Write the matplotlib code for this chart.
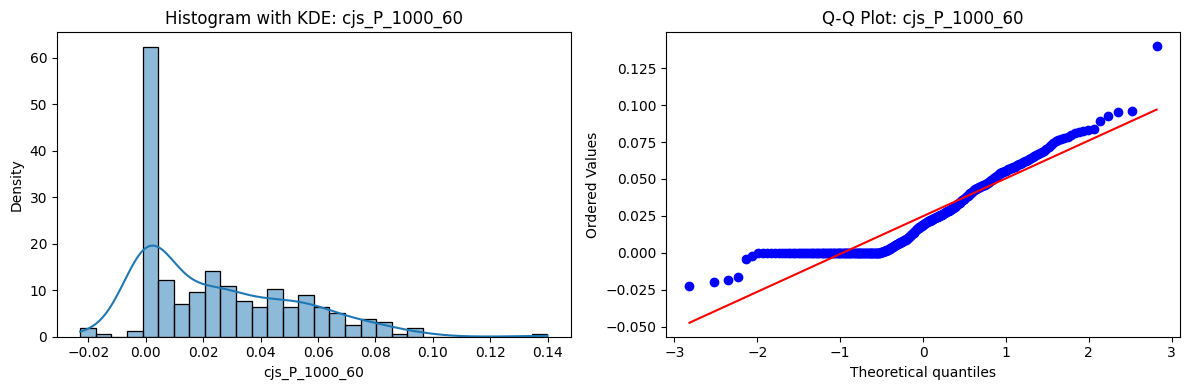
import numpy as np
import matplotlib
matplotlib.use("Agg")
import matplotlib.pyplot as plt
import seaborn as sns
from statistics import NormalDist

col_name = "cjs_P_1000_60"

neg_values = [-0.0228, -0.0198, -0.0187, -0.0167, -0.0045, -0.0020]
n_zeros = 81
small_values = [0.0002, 0.0004, 0.0006, 0.0008, 0.0010, 0.0012, 0.0014, 0.0016,
                0.0019, 0.0022, 0.0025, 0.0028, 0.0031, 0.0034, 0.0037, 0.0040]
low_values = [0.0046, 0.0049, 0.0051, 0.0054, 0.0057, 0.0060, 0.0062, 0.0065, 0.0068,
              0.0070, 0.0073, 0.0076, 0.0078, 0.0081, 0.0084, 0.0087, 0.0089, 0.0092, 0.0095,
              0.0100, 0.0104, 0.0108, 0.0112, 0.0117, 0.0122, 0.0127, 0.0132, 0.0137, 0.0142, 0.0148,
              0.0155, 0.0158, 0.0162, 0.0165, 0.0169, 0.0172, 0.0176, 0.0179, 0.0183, 0.0186,
              0.0190, 0.0193, 0.0196, 0.0200, 0.0203]
mid_values = [0.0208, 0.0210, 0.0213, 0.0215, 0.0218, 0.0220, 0.0223, 0.0225, 0.0228, 0.0230,
              0.0233, 0.0235, 0.0238, 0.0240, 0.0243, 0.0245, 0.0248, 0.0250, 0.0253, 0.0255, 0.0257,
              0.0259,
              0.0262, 0.0265, 0.0268, 0.0271, 0.0274, 0.0277, 0.0280, 0.0283, 0.0286, 0.0289,
              0.0292, 0.0295, 0.0298, 0.0301, 0.0304, 0.0308, 0.0312,
              0.0318, 0.0322, 0.0327, 0.0331, 0.0336, 0.0340, 0.0345, 0.0349, 0.0354, 0.0358, 0.0362, 0.0366,
              0.0372, 0.0377, 0.0382, 0.0387, 0.0392, 0.0397, 0.0402, 0.0407, 0.0413, 0.0419]
upper_values = [0.0426, 0.0429, 0.0432, 0.0435, 0.0438, 0.0441, 0.0444, 0.0447, 0.0450, 0.0453,
                0.0456, 0.0459, 0.0462, 0.0466, 0.0470, 0.0474,
                0.0481, 0.0486, 0.0491, 0.0496, 0.0501, 0.0506, 0.0511, 0.0516, 0.0521, 0.0527,
                0.0535, 0.0538, 0.0542, 0.0546, 0.0550, 0.0553, 0.0557, 0.0561, 0.0565, 0.0568,
                0.0572, 0.0576, 0.0579, 0.0583,
                0.0589, 0.0594, 0.0599, 0.0604, 0.0609, 0.0614, 0.0619, 0.0624, 0.0629, 0.0635]
tail_values = [0.0644, 0.0650, 0.0656, 0.0662, 0.0668, 0.0675, 0.0682, 0.0689,
               0.0702, 0.0714, 0.0727, 0.0740,
               0.0754, 0.0762, 0.0770, 0.0778, 0.0786, 0.0795,
               0.0808, 0.0815, 0.0822, 0.0829, 0.0836,
               0.0890, 0.0926, 0.0950, 0.0960, 0.1399]

data = np.array(neg_values + [0.0] * n_zeros + small_values + low_values
                + mid_values + upper_values + tail_values)

fig, axes = plt.subplots(1, 2, figsize=(12, 4), dpi=100)

ax = axes[0]
sns.histplot(data, bins=30, kde=True, stat="density", ax=ax)
ax.set_title(f"Histogram with KDE: {col_name}")
ax.set_xlabel(col_name)
ax.set_ylabel("Density")

# Q-Q plot (Filliben order statistic medians, like scipy.stats.probplot)
ordered = np.sort(data)
n = len(ordered)
m = np.empty(n)
m[-1] = 0.5 ** (1.0 / n)
m[0] = 1 - m[-1]
i = np.arange(2, n)
m[1:-1] = (i - 0.3175) / (n + 0.365)
nd = NormalDist()
theo = np.array([nd.inv_cdf(p) for p in m])
slope, intercept = np.polyfit(theo, ordered, 1)

ax2 = axes[1]
ax2.plot(theo, ordered, "bo")
ax2.plot(theo, slope * theo + intercept, "r-")
ax2.set_title(f"Q-Q Plot: {col_name}")
ax2.set_xlabel("Theoretical quantiles")
ax2.set_ylabel("Ordered Values")

plt.tight_layout()
plt.savefig("out.png", dpi=100, bbox_inches="tight")
